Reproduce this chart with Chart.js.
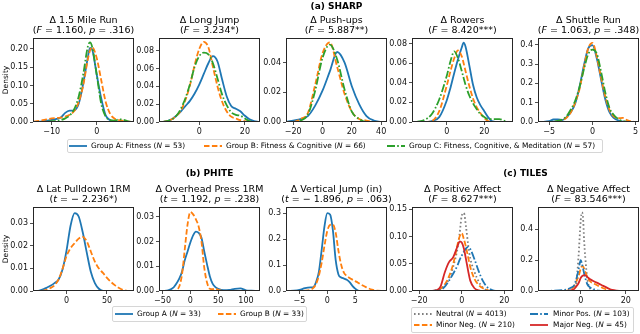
<!DOCTYPE html>
<html>
<head>
<meta charset="utf-8">
<script src="https://cdn.jsdelivr.net/npm/chart.js@4.4.0/dist/chart.umd.min.js"></script>
<style>
	body { margin: 0; background: #fff; font-family: "DejaVu Sans", sans-serif; color: #000; }
	#fig { position: relative; width: 640px; height: 334px; overflow: hidden; }
	canvas { position: absolute; }
	.txt { position: absolute; white-space: nowrap; transform: translateX(-50%); text-align: center; }
	.title { font-size: 9.5px; line-height: 10.75px; }
	.head { font-size: 9px; font-weight: bold; line-height: 10px; }
	.ylab { position: absolute; font-size: 7.5px; white-space: nowrap; transform: translate(-50%, -50%) rotate(-90deg); }
	.legend { position: absolute; border: 1px solid #d6d6d6; border-radius: 2px; box-sizing: border-box; }
	.ltext { position: absolute; font-size: 7.4px; line-height: 10px; white-space: nowrap; }
	svg { position: absolute; overflow: visible; }
</style>
</head>
<body>
<div id="fig"></div>
<script>
// --------------
// DATA
// --------------

// SHARP: 1.5 Mile Run
const runX = [-14, -12, -10, -8, -7, -6, -5, -4, -3, -2, -1.5, -1, 0, 1, 2, 3, 4, 5, 6, 7, 8];
const runA = [0, 0.002, 0.006, 0.012, 0.025, 0.031, 0.032, 0.05, 0.105, 0.175, 0.203, 0.198, 0.13, 0.065, 0.018, 0.005, 0.001, 0, 0, 0, 0];
const runB = [0.001, 0.005, 0.01, 0.012, 0.015, 0.02, 0.03, 0.055, 0.1, 0.17, 0.195, 0.205, 0.175, 0.115, 0.055, 0.022, 0.009, 0.005, 0.003, 0.001, 0];
const runC = [0, 0, 0.002, 0.005, 0.01, 0.018, 0.035, 0.07, 0.13, 0.205, 0.218, 0.205, 0.13, 0.05, 0.015, 0.005, 0.004, 0.007, 0.006, 0.002, 0];

// SHARP: Long Jump
const jumpX = [-16, -14, -12, -10, -8, -6, -4, -2, 0, 2, 4, 6, 8, 10, 12, 14, 16, 18, 20, 22, 24, 26];
const jumpA = [0, 0.001, 0.003, 0.007, 0.012, 0.018, 0.024, 0.032, 0.042, 0.054, 0.066, 0.074, 0.068, 0.048, 0.029, 0.018, 0.015, 0.012, 0.007, 0.003, 0.001, 0];
const jumpB = [0, 0.001, 0.003, 0.007, 0.013, 0.025, 0.042, 0.064, 0.082, 0.09, 0.084, 0.062, 0.04, 0.023, 0.012, 0.006, 0.004, 0.002, 0.001, 0, 0, 0];
const jumpC = [0, 0.001, 0.003, 0.007, 0.015, 0.027, 0.043, 0.062, 0.074, 0.078, 0.076, 0.066, 0.049, 0.031, 0.019, 0.011, 0.008, 0.007, 0.004, 0.001, 0, 0];

// SHARP: Push-ups
const pushX = [-25, -20, -15, -10, -5, 0, 5, 10, 15, 20, 25, 30, 35, 40];
const pushA = [0, 0.001, 0.002, 0.004, 0.011, 0.021, 0.034, 0.047, 0.04, 0.024, 0.012, 0.004, 0.001, 0];
const pushB = [0, 0, 0.002, 0.006, 0.025, 0.046, 0.0535, 0.037, 0.019, 0.007, 0.002, 0.001, 0, 0];
const pushC = [0, 0, 0.001, 0.005, 0.021, 0.043, 0.052, 0.042, 0.022, 0.007, 0.002, 0, 0, 0];

// SHARP: Rowers
const rowX = [-16, -12, -8, -4, 0, 2, 4, 6, 8, 9, 10, 12, 14, 16, 18, 20, 22, 24, 28, 32];
const rowA = [0, 0, 0.001, 0.005, 0.022, 0.035, 0.05, 0.064, 0.076, 0.081, 0.077, 0.058, 0.038, 0.025, 0.017, 0.011, 0.005, 0.001, 0, 0];
const rowB = [0, 0, 0.001, 0.011, 0.037, 0.052, 0.065, 0.073, 0.067, 0.06, 0.052, 0.037, 0.024, 0.015, 0.009, 0.004, 0.001, 0, 0, 0];
const rowC = [0, 0.002, 0.008, 0.023, 0.047, 0.062, 0.072, 0.065, 0.052, 0.045, 0.038, 0.027, 0.019, 0.013, 0.008, 0.005, 0.003, 0.003, 0.003, 0];

// SHARP: Shuttle Run
const shuttleX = [-6, -5, -4.5, -4, -3.5, -3, -2.5, -2, -1.5, -1, -0.5, 0, 0.5, 1, 1.5, 2, 2.5, 3, 3.5, 4, 4.5, 5];
const shuttleA = [0, 0.004, 0.013, 0.014, 0.01, 0.025, 0.05, 0.095, 0.18, 0.29, 0.38, 0.398, 0.33, 0.22, 0.115, 0.048, 0.02, 0.008, 0.002, 0, 0, 0];
const shuttleB = [0, 0, 0.001, 0.004, 0.01, 0.022, 0.05, 0.1, 0.17, 0.28, 0.38, 0.41, 0.34, 0.23, 0.13, 0.06, 0.028, 0.02, 0.021, 0.01, 0.003, 0];
const shuttleC = [0, 0, 0.002, 0.006, 0.013, 0.03, 0.065, 0.11, 0.18, 0.27, 0.35, 0.375, 0.355, 0.26, 0.15, 0.07, 0.035, 0.015, 0.005, 0.001, 0, 0];

// PHITE: Lat Pulldown 1RM
const latX = [-40, -35, -30, -25, -20, -15, -10, -5, 0, 5, 10, 15, 20, 25, 30, 35, 40, 45, 50, 55, 60, 65, 70, 75, 80];
const latA = [0, 0.0001, 0.0006, 0.0014, 0.0023, 0.0035, 0.005, 0.0095, 0.018, 0.029, 0.0345, 0.033, 0.026, 0.017, 0.0085, 0.0035, 0.001, 0.0001, 0, 0, 0, 0, 0, 0, 0];
const latB = [0, 0, 0.0001, 0.0005, 0.0013, 0.0025, 0.005, 0.0098, 0.0155, 0.019, 0.0212, 0.0232, 0.024, 0.022, 0.0175, 0.013, 0.01, 0.008, 0.0058, 0.004, 0.0025, 0.0013, 0.0005, 0.0001, 0];

// PHITE: Overhead Press 1RM
const pressX = [-50, -40, -30, -25, -20, -15, -10, -5, 0, 5, 10, 15, 20, 25, 30, 35, 40, 45, 50, 60, 70, 80, 90, 100, 110, 120];
const pressA = [0, 0.0003, 0.0015, 0.003, 0.005, 0.0078, 0.0125, 0.016, 0.0196, 0.0225, 0.024, 0.0235, 0.0215, 0.016, 0.0108, 0.006, 0.003, 0.0016, 0.0009, 0.0003, 0.0004, 0.0009, 0.0011, 0.0003, 0.0001, 0];
const pressB = [0, 0, 0, 0.0004, 0.0018, 0.0067, 0.017, 0.027, 0.032, 0.031, 0.029, 0.026, 0.02, 0.0095, 0.0034, 0.0009, 0.0007, 0.001, 0.0005, 0, 0, 0, 0, 0, 0, 0];

// PHITE: Vertical Jump
const vjumpX = [-7, -6, -5, -4, -3, -2.5, -2, -1.5, -1, -0.5, 0, 0.5, 1, 1.5, 2, 2.5, 3, 3.5, 4, 4.5, 5, 5.5, 6, 7, 8, 9, 10];
const vjumpA = [0, 0.001, 0.004, 0.011, 0.014, 0.015, 0.035, 0.075, 0.16, 0.25, 0.3, 0.295, 0.235, 0.12, 0.064, 0.052, 0.048, 0.043, 0.034, 0.02, 0.009, 0.002, 0, 0, 0, 0, 0];
const vjumpB = [0, 0, 0, 0.001, 0.005, 0.012, 0.028, 0.06, 0.11, 0.175, 0.232, 0.255, 0.256, 0.225, 0.155, 0.1, 0.07, 0.058, 0.05, 0.044, 0.038, 0.032, 0.025, 0.014, 0.005, 0.001, 0];

// TILES: Positive Affect
const posX = [-22, -16, -14, -12, -10, -8, -6, -4, -2, -1, 0, 1, 2, 3, 4, 6, 8, 10, 12, 14, 16, 22];
const posNeutral = [0, 0, 0, 0.001, 0.004, 0.01, 0.022, 0.045, 0.078, 0.105, 0.138, 0.143, 0.118, 0.085, 0.06, 0.035, 0.017, 0.006, 0.001, 0, 0, 0];
const posMinorNeg = [0, 0, 0, 0.001, 0.004, 0.012, 0.027, 0.05, 0.085, 0.1, 0.106, 0.095, 0.08, 0.062, 0.044, 0.022, 0.011, 0.005, 0.002, 0, 0, 0];
const posMinorPos = [0, 0, 0, 0.001, 0.002, 0.008, 0.019, 0.032, 0.047, 0.057, 0.065, 0.072, 0.078, 0.081, 0.077, 0.058, 0.036, 0.018, 0.007, 0.002, 0, 0];
const posMajorNeg = [0, 0, 0, 0.001, 0.008, 0.034, 0.053, 0.062, 0.082, 0.091, 0.089, 0.078, 0.058, 0.037, 0.019, 0.005, 0.001, 0, 0, 0, 0, 0];

// TILES: Negative Affect
const negX = [-18, -12, -8, -6, -4, -3, -2, -1, 0, 0.5, 1, 1.5, 2, 3, 4, 6, 8, 10, 12, 14, 16, 18, 22, 25];
const negNeutral = [0, 0, 0, 0, 0.002, 0.012, 0.05, 0.22, 0.46, 0.51, 0.48, 0.33, 0.22, 0.07, 0.02, 0.002, 0, 0, 0, 0, 0, 0, 0, 0];
const negMinorNeg = [0, 0, 0.001, 0.003, 0.017, 0.03, 0.06, 0.095, 0.145, 0.16, 0.16, 0.145, 0.125, 0.09, 0.065, 0.047, 0.032, 0.018, 0.008, 0.002, 0, 0, 0, 0];
const negMinorPos = [0, 0.002, 0.006, 0.01, 0.024, 0.035, 0.075, 0.136, 0.2, 0.18, 0.148, 0.115, 0.085, 0.042, 0.025, 0.01, 0.002, 0, 0, 0, 0, 0, 0, 0];
const negMajorNeg = [0, 0, 0, 0.001, 0.005, 0.012, 0.03, 0.05, 0.085, 0.095, 0.1, 0.103, 0.102, 0.09, 0.078, 0.062, 0.048, 0.033, 0.019, 0.007, 0.002, 0, 0, 0];

// TICKS
const runTicksX = [-10, 0], runTicksY = [0, 0.05, 0.1, 0.15, 0.2];
const jumpTicksX = [0, 20], jumpTicksY = [0, 0.02, 0.04, 0.06, 0.08];
const pushTicksX = [-20, 0, 20, 40], pushTicksY = [0, 0.02, 0.04];
const rowTicksX = [0, 20], rowTicksY = [0, 0.02, 0.04, 0.06, 0.08];
const shuttleTicksX = [-5, 0, 5], shuttleTicksY = [0, 0.1, 0.2, 0.3, 0.4];
const latTicksX = [0, 50], latTicksY = [0, 0.01, 0.02, 0.03];
const pressTicksX = [-50, 0, 50, 100], pressTicksY = [0, 0.01, 0.02, 0.03];
const vjumpTicksX = [-5, 0, 5], vjumpTicksY = [0, 0.1, 0.2, 0.3];
const posTicksX = [-20, 0, 20], posTicksY = [0, 0.05, 0.1, 0.15];
const negTicksX = [0, 20], negTicksY = [0, 0.2, 0.4];

// --------------
// CONFIG CHART
// --------------
Chart.defaults.font.family = "DejaVu Sans";

const fig = document.getElementById("fig");
const BLUE = "#1f77b4", ORANGE = "#ff7f0e", GREEN = "#2ca02c", RED = "#d62728", GRAY = "#7f7f7f";
const SOLID = [], DASH = [5.5, 2.4], DASHDOT = [8, 2.2, 1.6, 2.2], DOT = [1.6, 2.4];
const YW = 30, XH = 16, PT = 9, PR = 5;

const fmtX = (v) => (v < 0 ? "\u2212" + Math.abs(v) : String(v));

const framePlugin = {
	id: "frame",
	afterDraw: (chart) => {
		const { ctx, chartArea: a } = chart;
		ctx.save();
		ctx.strokeStyle = "#262626";
		ctx.lineWidth = 1;
		ctx.strokeRect(a.left + 0.5, a.top + 0.5, a.right - a.left - 1, a.bottom - a.top - 1);
		ctx.restore();
	},
};

const axis = (min, max, ticks, fmt, isY) => ({
	type: "linear",
	min: min,
	max: max,
	afterBuildTicks: (s) => { s.ticks = ticks.map((v) => ({ value: v })); },
	afterFit: (s) => { if (isY) s.width = YW; else s.height = XH; },
	ticks: { font: { size: 8 }, color: "#111", padding: 2, maxRotation: 0, autoSkip: false, callback: fmt },
	grid: { drawOnChartArea: false, drawTicks: true, tickLength: 3, color: "#222", lineWidth: 0.8 },
	border: { display: false },
});

const setDensityChart = (box, xRange, yMax, ticksX, ticksY, yDec, xs, series) => {
	const [l, t, r, b] = box;
	const canvas = document.createElement("canvas");
	canvas.width = r - l + YW + PR;
	canvas.height = b - t + XH + PT;
	canvas.style.left = (l - YW) + "px";
	canvas.style.top = (t - PT) + "px";
	fig.appendChild(canvas);

	const datasets = series.map((s, i) => ({
		data: xs.map((x, k) => ({ x: x, y: s.data[k] })),
		borderColor: s.color,
		borderWidth: 1.8,
		borderDash: s.dash,
		pointRadius: 0,
		fill: false,
		cubicInterpolationMode: "monotone",
		order: series.length - i,
	}));

	return new Chart(canvas, {
		type: "line",
		data: { datasets: datasets },
		options: {
			animation: false,
			responsive: false,
			events: [],
			layout: { padding: { top: PT, right: PR, bottom: 0, left: 0 } },
			plugins: { legend: { display: false }, tooltip: { enabled: false } },
			scales: {
				x: axis(xRange[0], xRange[1], ticksX, fmtX, false),
				y: axis(0, yMax, ticksY, (v) => v.toFixed(yDec), true),
			},
		},
		plugins: [framePlugin],
	});
};

// --------------
// TEXT HELPERS
// --------------
const addText = (cls, html, x, y) => {
	const d = document.createElement("div");
	d.className = cls;
	d.innerHTML = html;
	d.style.left = x + "px";
	d.style.top = y + "px";
	fig.appendChild(d);
	return d;
};

const addTitle = (box, line1, line2) => {
	addText("txt title", line1 + "<br>" + line2, (box[0] + box[2]) / 2, box[1] - 23.5);
};

const addLegendItem = (x1, x2, y, tx, color, dash, label) => {
	const ns = "http://www.w3.org/2000/svg";
	const svg = document.createElementNS(ns, "svg");
	svg.setAttribute("width", x2 - x1);
	svg.setAttribute("height", 4);
	svg.style.left = x1 + "px";
	svg.style.top = (y - 2) + "px";
	const line = document.createElementNS(ns, "line");
	line.setAttribute("x1", 0);
	line.setAttribute("x2", x2 - x1);
	line.setAttribute("y1", 2);
	line.setAttribute("y2", 2);
	line.setAttribute("stroke", color);
	line.setAttribute("stroke-width", 1.8);
	if (dash.length) line.setAttribute("stroke-dasharray", dash.join(" "));
	svg.appendChild(line);
	fig.appendChild(svg);
	addText("ltext", label, tx, y - 5);
};

const addLegendBox = (l, t, w, h) => {
	const d = document.createElement("div");
	d.className = "legend";
	Object.assign(d.style, { left: l + "px", top: t + "px", width: w + "px", height: h + "px" });
	fig.appendChild(d);
};

// --------------
// PANELS
// --------------
const boxRun = [33, 38, 134, 122], boxJump = [159, 38, 260, 122], boxPush = [286, 38, 387, 122];
const boxRow = [412, 38, 513, 122], boxShuttle = [538, 38, 639, 122];
const boxLat = [33, 207, 134, 291], boxPress = [159, 207, 260, 291], boxVjump = [286, 207, 387, 291];
const boxPos = [412, 207, 513, 291], boxNeg = [538, 207, 639, 291];

// CHART 1.5 Mile Run
setDensityChart(boxRun, [-14.16, 8.29], 0.23, runTicksX, runTicksY, 2, runX, [
	{ data: runA, color: BLUE, dash: SOLID },
	{ data: runB, color: ORANGE, dash: DASH },
	{ data: runC, color: GREEN, dash: DASHDOT },
]);

// CHART Long Jump
setDensityChart(boxJump, [-17.6, 26.6], 0.0944, jumpTicksX, jumpTicksY, 2, jumpX, [
	{ data: jumpA, color: BLUE, dash: SOLID },
	{ data: jumpB, color: ORANGE, dash: DASH },
	{ data: jumpC, color: GREEN, dash: DASHDOT },
]);

// CHART Push-ups
setDensityChart(boxPush, [-24.9, 44], 0.0564, pushTicksX, pushTicksY, 2, pushX, [
	{ data: pushA, color: BLUE, dash: SOLID },
	{ data: pushB, color: ORANGE, dash: DASH },
	{ data: pushC, color: GREEN, dash: DASHDOT },
]);

// CHART Rowers
setDensityChart(boxRow, [-18.5, 35.3], 0.0857, rowTicksX, rowTicksY, 2, rowX, [
	{ data: rowA, color: BLUE, dash: SOLID },
	{ data: rowB, color: ORANGE, dash: DASH },
	{ data: rowC, color: GREEN, dash: DASHDOT },
]);

// CHART Shuttle Run
setDensityChart(boxShuttle, [-6.3, 5.39], 0.435, shuttleTicksX, shuttleTicksY, 1, shuttleX, [
	{ data: shuttleA, color: BLUE, dash: SOLID },
	{ data: shuttleB, color: ORANGE, dash: DASH },
	{ data: shuttleC, color: GREEN, dash: DASHDOT },
]);

// CHART Lat Pulldown
setDensityChart(boxLat, [-41.5, 83.4], 0.0372, latTicksX, latTicksY, 2, latX, [
	{ data: latA, color: BLUE, dash: SOLID },
	{ data: latB, color: ORANGE, dash: DASH },
]);

// CHART Overhead Press
setDensityChart(boxPress, [-56.4, 125.3], 0.034, pressTicksX, pressTicksY, 2, pressX, [
	{ data: pressA, color: BLUE, dash: SOLID },
	{ data: pressB, color: ORANGE, dash: DASH },
]);

// CHART Vertical Jump
setDensityChart(boxVjump, [-7.4, 10.7], 0.324, vjumpTicksX, vjumpTicksY, 1, vjumpX, [
	{ data: vjumpA, color: BLUE, dash: SOLID },
	{ data: vjumpB, color: ORANGE, dash: DASH },
]);

// CHART Positive Affect
setDensityChart(boxPos, [-23.4, 24.1], 0.154, posTicksX, posTicksY, 2, posX, [
	{ data: posNeutral, color: GRAY, dash: DOT },
	{ data: posMinorNeg, color: ORANGE, dash: DASH },
	{ data: posMinorPos, color: BLUE, dash: DASHDOT },
	{ data: posMajorNeg, color: RED, dash: SOLID },
]);

// CHART Negative Affect
setDensityChart(boxNeg, [-19, 25.9], 0.545, negTicksX, negTicksY, 1, negX, [
	{ data: negNeutral, color: GRAY, dash: DOT },
	{ data: negMinorNeg, color: ORANGE, dash: DASH },
	{ data: negMinorPos, color: BLUE, dash: DASHDOT },
	{ data: negMajorNeg, color: RED, dash: SOLID },
]);

// --------------
// TITLES & LEGENDS
// --------------
addText("txt head", "(a) SHARP", 336.5, 0.5);
addText("txt head", "(b) PHITE", 209.5, 167.5);
addText("txt head", "(c) TILES", 525.5, 167.5);

addTitle(boxRun, "\u0394 1.5 Mile Run", "(<i>F</i> = 1.160, <i>p</i> = .316)");
addTitle(boxJump, "\u0394 Long Jump", "(<i>F</i> = 3.234*)");
addTitle(boxPush, "\u0394 Push-ups", "(<i>F</i> = 5.887**)");
addTitle(boxRow, "\u0394 Rowers", "(<i>F</i> = 8.420***)");
addTitle(boxShuttle, "\u0394 Shuttle Run", "(<i>F</i> = 1.063, <i>p</i> = .348)");
addTitle(boxLat, "\u0394 Lat Pulldown 1RM", "(<i>t</i> = \u2212 2.236*)");
addTitle(boxPress, "\u0394 Overhead Press 1RM", "(<i>t</i> = 1.192, <i>p</i> = .238)");
addTitle(boxVjump, "\u0394 Vertical Jump (in)", "(<i>t</i> = \u2212 1.896, <i>p</i> = .063)");
addTitle(boxPos, "\u0394 Positive Affect", "(<i>F</i> = 8.627***)");
addTitle(boxNeg, "\u0394 Negative Affect", "(<i>F</i> = 83.546***)");

addText("ylab", "Density", 4.5, 80);
addText("ylab", "Density", 4.5, 249);

// legend (a)
addLegendBox(67, 139, 536, 14);
addLegendItem(69, 87, 146, 91, BLUE, SOLID, "Group A: Fitness (<i>N</i> = 53)");
addLegendItem(204, 222, 146, 226, ORANGE, DASH, "Group B: Fitness &amp; Cognitive (<i>N</i> = 66)");
addLegendItem(387, 405, 146, 409, GREEN, DASHDOT, "Group C: Fitness, Cognitive, &amp; Meditation (<i>N</i> = 57)");

// legend (b)
addLegendBox(112, 306, 195, 16);
addLegendItem(115, 133, 314, 137, BLUE, SOLID, "Group A (<i>N</i> = 33)");
addLegendItem(218, 236, 314, 240, ORANGE, DASH, "Group B (<i>N</i> = 33)");

// legend (c)
addLegendBox(411, 307, 223, 26);
addLegendItem(414, 432, 314, 436, GRAY, DOT, "Neutral (<i>N</i> = 4013)");
addLegendItem(414, 432, 325, 436, ORANGE, DASH, "Minor Neg. (<i>N</i> = 210)");
addLegendItem(530, 548, 314, 553, BLUE, DASHDOT, "Minor Pos. (<i>N</i> = 103)");
addLegendItem(530, 548, 325, 553, RED, SOLID, "Major Neg. (<i>N</i> = 45)");
</script>
</body>
</html>
